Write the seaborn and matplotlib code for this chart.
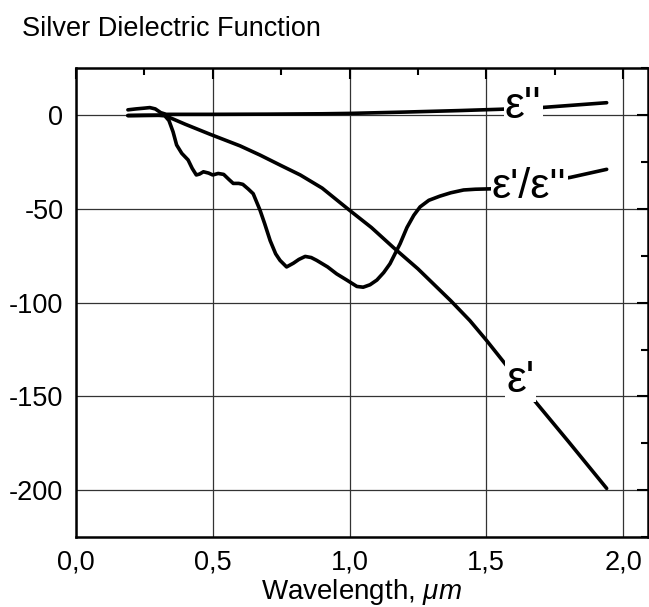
import matplotlib
matplotlib.use("Agg")
import matplotlib.pyplot as plt
from matplotlib.ticker import MultipleLocator, FuncFormatter
import seaborn as sns
import pandas as pd

# ---- data ----
eps2_x = [0.19, 0.22, 0.25, 0.27, 0.29, 0.31, 0.33, 0.40, 0.50, 0.70, 0.90, 1.00, 1.20, 1.40, 1.55, 1.70, 1.94]
eps2_y = [2.7, 3.2, 3.6, 3.9, 3.2, 1.2, 0.3, 0.3, 0.3, 0.4, 0.6, 0.8, 1.5, 2.3, 3.0, 3.9, 6.5]

eps1_x = [0.19, 0.25, 0.30, 0.32, 0.40, 0.49, 0.60, 0.673, 0.75, 0.82, 0.90, 1.00, 1.08, 1.16, 1.25, 1.37, 1.44, 1.50, 1.56, 1.668, 1.80, 1.94]
eps1_y = [-0.4, -0.3, -0.2, 0.0, -5.0, -10.3, -16.5, -21.4, -27.0, -32.0, -39.0, -50.8, -60.0, -70.6, -82.0, -99.0, -109.6, -120.0, -131.0, -150.8, -174.0, -199.0]

ratio_x = [0.19, 0.25, 0.30, 0.325, 0.34, 0.355, 0.368, 0.387, 0.41, 0.425, 0.44, 0.452, 0.466, 0.485, 0.50, 0.52, 0.54, 0.56, 0.575, 0.595, 0.61, 0.63, 0.648, 0.673, 0.69, 0.71, 0.73, 0.746, 0.77, 0.795, 0.815, 0.838, 0.86, 0.88, 0.92, 0.953, 0.99, 1.027, 1.05, 1.075, 1.10, 1.125, 1.148, 1.185, 1.21, 1.235, 1.258, 1.29, 1.33, 1.37, 1.417, 1.46, 1.514, 1.65, 1.807, 1.94]
ratio_y = [-0.3, -0.2, -0.2, -0.5, -3.0, -9.0, -16.0, -20.5, -24.0, -28.5, -32.0, -31.5, -30.3, -31.0, -32.0, -31.2, -31.7, -34.5, -36.5, -36.5, -37.0, -39.5, -42.0, -50.8, -58.0, -67.0, -74.0, -77.5, -81.0, -79.0, -77.0, -75.4, -76.0, -77.5, -81.0, -84.7, -88.0, -91.4, -91.8, -90.5, -88.0, -84.0, -79.3, -68.6, -60.0, -53.5, -49.0, -45.5, -43.3, -41.5, -40.0, -39.6, -39.4, -37.0, -33.3, -29.0]

x_ticks = [0.0, 0.5, 1.0, 1.5, 2.0]
y_ticks = [0, -50, -100, -150, -200]

title = "Silver Dielectric Function"
xlabel = r"Wavelength, $\mu m$"
labels = ["ε''", "ε'/ε''", "ε'"]

# ---- style ----
sns.set_theme(style="white")
plt.rcParams["font.family"] = ["Liberation Sans", "DejaVu Sans"]
plt.rcParams["axes.unicode_minus"] = False
plt.rcParams["mathtext.fontset"] = "custom"
plt.rcParams["mathtext.rm"] = "Liberation Sans"
plt.rcParams["mathtext.it"] = "Liberation Sans:italic"
plt.rcParams["text.color"] = "black"
plt.rcParams["axes.labelcolor"] = "black"

fig = plt.figure(figsize=(6.49, 6.07), dpi=100)
ax = fig.add_axes([0.117, 0.115, 0.881, 0.773])

lw = 2.6
for xs, ys in [(eps2_x, eps2_y), (eps1_x, eps1_y), (ratio_x, ratio_y)]:
    df = pd.DataFrame({"x": xs, "y": ys})
    sns.lineplot(data=df, x="x", y="y", ax=ax, color="black", linewidth=lw,
                 sort=False, estimator=None, zorder=3,
                 solid_joinstyle="round", solid_capstyle="round")

ax.set_xlim(0, 2.09)
ax.set_ylim(-225, 25)
ax.set_xticks(x_ticks)
ax.set_yticks(y_ticks)
ax.xaxis.set_minor_locator(MultipleLocator(0.25))
ax.yaxis.set_minor_locator(MultipleLocator(25))
ax.xaxis.set_major_formatter(FuncFormatter(lambda v, p: f"{v:.1f}".replace(".", ",")))
ax.yaxis.set_major_formatter(FuncFormatter(lambda v, p: f"{int(round(v))}"))

ax.grid(True, which="major", color="#333333", linewidth=0.9)
ax.tick_params(which="both", direction="in", top=True, right=True, colors="black",
               labelsize=19.5, width=1.5)
ax.tick_params(which="major", length=8, pad=9)
ax.tick_params(which="minor", length=5)
for s in ax.spines.values():
    s.set_color("black")
    s.set_linewidth(1.8)

ax.set_xlabel(xlabel, fontsize=20, labelpad=1, color="black")
ax.set_ylabel("")
fig.text(0.034, 0.953, title, fontsize=19.5, ha="left", va="center", color="black")

bbox = dict(facecolor="white", edgecolor="none", pad=1.0)
ax.text(1.635, 4.5, labels[0], fontsize=32, ha="center", va="center", bbox=bbox, zorder=5)
ax.text(1.657, -38.5, labels[1], fontsize=31, ha="center", va="center", bbox=bbox, zorder=5)
ax.text(1.624, -141.5, labels[2], fontsize=32, ha="center", va="center", bbox=bbox, zorder=5)

fig.savefig("out.png", dpi=100)
